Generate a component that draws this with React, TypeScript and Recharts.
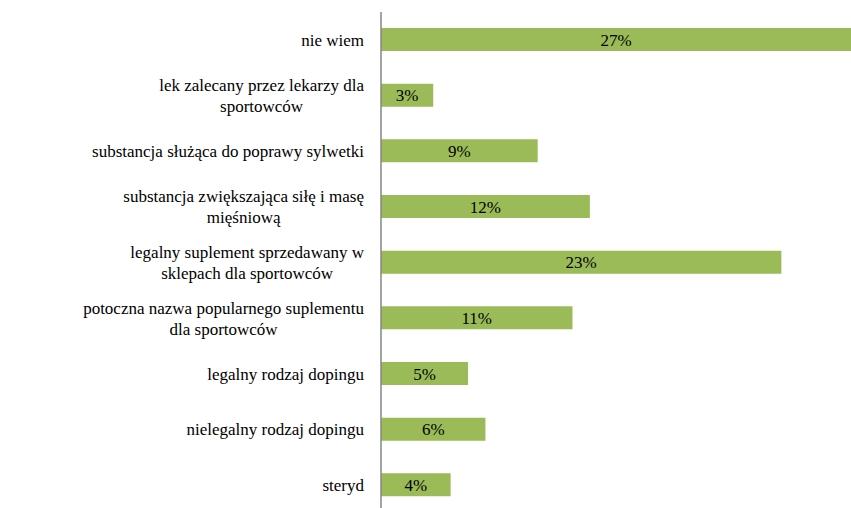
import React from 'react';
import { BarChart, Bar, XAxis, YAxis, LabelList } from 'recharts';

// answers (Polish survey), top to bottom
const categories = [
  'nie wiem',
  'lek zalecany przez lekarzy dla sportowców',
  'substancja służąca do poprawy sylwetki',
  'substancja zwiększająca siłę i masę mięśniową',
  'legalny suplement sprzedawany w sklepach dla sportowców',
  'potoczna nazwa popularnego suplementu dla sportowców',
  'legalny rodzaj dopingu',
  'nielegalny rodzaj dopingu',
  'steryd',
];
// how the labels wrap in the original
const labelLines = [
  ['nie wiem'],
  ['lek zalecany przez lekarzy dla', 'sportowców'],
  ['substancja służąca do poprawy sylwetki'],
  ['substancja zwiększająca siłę i masę', 'mięśniową'],
  ['legalny suplement sprzedawany w', 'sklepach dla sportowców'],
  ['potoczna nazwa popularnego suplementu', 'dla sportowców'],
  ['legalny rodzaj dopingu'],
  ['nielegalny rodzaj dopingu'],
  ['steryd'],
];
const values = [27, 3, 9, 12, 23, 11, 5, 6, 4];

const data = categories.map((name, i) => ({ name, value: values[i] }));

const FONT = '"Liberation Serif", "Times New Roman", serif';
const FONT_SIZE = 17;
const LINE_H = 21;

let ctx: CanvasRenderingContext2D | null = null;
const measure = (s: string) => {
  if (!ctx) ctx = document.createElement('canvas').getContext('2d');
  if (!ctx) return s.length * 7;
  ctx.font = `${FONT_SIZE}px ${FONT}`;
  return ctx.measureText(s).width;
};

const CategoryTick = ({ x, y, index }: any) => {
  const lines: string[] = labelLines[index] || [];
  const right = x - 9;
  const blockW = Math.max(...lines.map(measure));
  const cx = right - blockW / 2;
  const top = y - ((lines.length - 1) * LINE_H) / 2;
  // label block is right aligned, its lines are centred inside it
  return (
    <text textAnchor="middle" fill="#000" fontFamily={FONT} fontSize={FONT_SIZE}>
      {lines.map((l, i) => (
        <tspan key={i} x={cx} y={top + i * LINE_H} dy="0.35em">{l}</tspan>
      ))}
    </text>
  );
};

export default function App() {
  return (
    <div style={{ position: 'absolute', left: 0, top: 0, width: 851, height: 508, overflow: 'hidden', background: '#fff' }}>
      <BarChart
        width={851}
        height={513}
        data={data}
        layout="vertical"
        margin={{ top: 12, right: 0, bottom: 0, left: 0 }}
      >
        <XAxis type="number" domain={[0, 27]} hide />
        <YAxis
          type="category"
          dataKey="name"
          width={381}
          tickLine={false}
          axisLine={{ stroke: '#868686', strokeWidth: 1.5 }}
          tick={CategoryTick}
          interval={0}
        />
        <Bar dataKey="value" fill="#9BBB59" barSize={23} isAnimationActive={false}>
          <LabelList
            dataKey="value"
            position="center"
            formatter={(v: any) => `${v}%`}
            fill="#000"
            fontFamily={FONT}
            fontSize={FONT_SIZE}
          />
        </Bar>
      </BarChart>
    </div>
  );
}
